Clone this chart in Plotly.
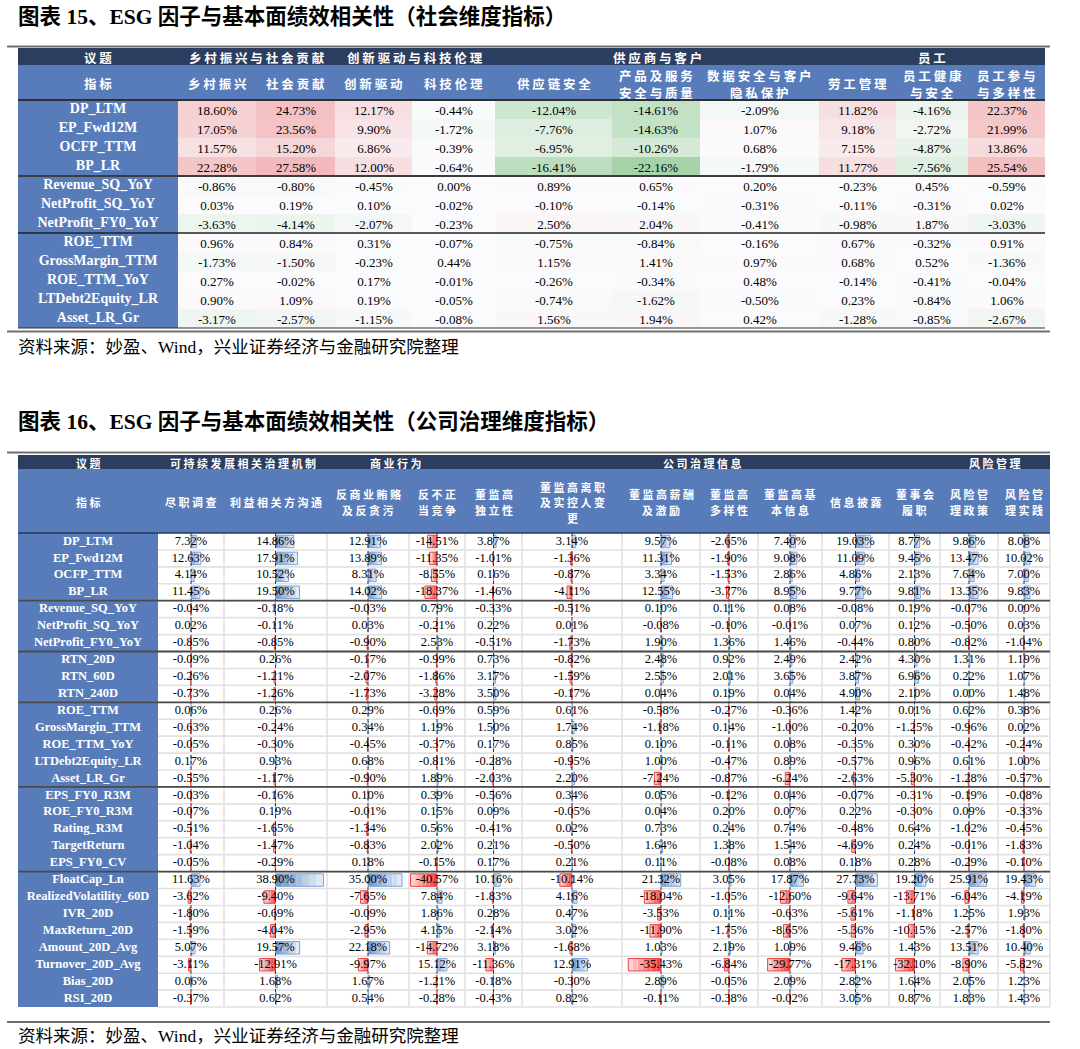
import plotly.graph_objects as go

# ===================== DATA : 图表15 =====================
t1_topics = ["议题", "乡村振兴与社会贡献", "创新驱动与科技伦理", "供应商与客户", "员工"]
t1_topic_cols = [(0, 0), (1, 2), (3, 4), (5, 7), (8, 10)]
t1_indicators = ["乡村振兴", "社会贡献", "创新驱动", "科技伦理", "供应链安全",
                 "产品及服务\n安全与质量", "数据安全与客户\n隐私保护", "劳工管理",
                 "员工健康\n与安全", "员工参与\n与多样性"]
t1_factors = ["DP_LTM", "EP_Fwd12M", "OCFP_TTM", "BP_LR", "Revenue_SQ_YoY",
              "NetProfit_SQ_YoY", "NetProfit_FY0_YoY", "ROE_TTM", "GrossMargin_TTM",
              "ROE_TTM_YoY", "LTDebt2Equity_LR", "Asset_LR_Gr"]
t1_groups = [4, 3, 5]

t1_DP_LTM = [18.60, 24.73, 12.17, -0.44, -12.04, -14.61, -2.09, 11.82, -4.16, 22.37]
t1_EP_Fwd12M = [17.05, 23.56, 9.90, -1.72, -7.76, -14.63, 1.07, 9.18, -2.72, 21.99]
t1_OCFP_TTM = [11.57, 15.20, 6.86, -0.39, -6.95, -10.26, 0.68, 7.15, -4.87, 13.86]
t1_BP_LR = [22.28, 27.58, 12.00, -0.64, -16.41, -22.16, -1.79, 11.77, -7.56, 25.54]
t1_Revenue_SQ_YoY = [-0.86, -0.80, -0.45, 0.00, 0.89, 0.65, 0.20, -0.23, 0.45, -0.59]
t1_NetProfit_SQ_YoY = [0.03, 0.19, 0.10, -0.02, -0.10, -0.14, -0.31, -0.11, -0.31, 0.02]
t1_NetProfit_FY0_YoY = [-3.63, -4.14, -2.07, -0.23, 2.50, 2.04, -0.41, -0.98, 1.87, -3.03]
t1_ROE_TTM = [0.96, 0.84, 0.31, -0.07, -0.75, -0.84, -0.16, 0.67, -0.32, 0.91]
t1_GrossMargin_TTM = [-1.73, -1.50, -0.23, 0.44, 1.15, 1.41, 0.97, 0.68, 0.52, -1.36]
t1_ROE_TTM_YoY = [0.27, -0.02, 0.17, -0.01, -0.26, -0.34, 0.48, -0.14, -0.41, -0.04]
t1_LTDebt2Equity_LR = [0.90, 1.09, 0.19, -0.05, -0.74, -1.62, -0.50, 0.23, -0.84, 1.06]
t1_Asset_LR_Gr = [-3.17, -2.57, -1.15, -0.08, 1.56, 1.94, 0.42, -1.28, -0.85, -2.67]

t1_values = [t1_DP_LTM, t1_EP_Fwd12M, t1_OCFP_TTM, t1_BP_LR, t1_Revenue_SQ_YoY,
             t1_NetProfit_SQ_YoY, t1_NetProfit_FY0_YoY, t1_ROE_TTM, t1_GrossMargin_TTM,
             t1_ROE_TTM_YoY, t1_LTDebt2Equity_LR, t1_Asset_LR_Gr]

# ===================== DATA : 图表16 =====================
t2_topics = ["议题", "可持续发展相关治理机制", "商业行为", "公司治理信息", "风险管理"]
t2_topic_cols = [(0, 0), (1, 2), (3, 4), (5, 11), (12, 13)]
t2_indicators = ["尽职调查", "利益相关方沟通", "反商业贿赂\n及反贪污", "反不正\n当竞争",
                 "董监高\n独立性", "董监高离职\n及实控人变\n更", "董监高薪酬\n及激励",
                 "董监高\n多样性", "董监高基\n本信息", "信息披露", "董事会\n履职",
                 "风险管\n理政策", "风险管\n理实践"]
t2_factors = ["DP_LTM", "EP_Fwd12M", "OCFP_TTM", "BP_LR", "Revenue_SQ_YoY",
              "NetProfit_SQ_YoY", "NetProfit_FY0_YoY", "RTN_20D", "RTN_60D", "RTN_240D",
              "ROE_TTM", "GrossMargin_TTM", "ROE_TTM_YoY", "LTDebt2Equity_LR", "Asset_LR_Gr",
              "EPS_FY0_R3M", "ROE_FY0_R3M", "Rating_R3M", "TargetReturn", "EPS_FY0_CV",
              "FloatCap_Ln", "RealizedVolatility_60D", "IVR_20D", "MaxReturn_20D",
              "Amount_20D_Avg", "Turnover_20D_Avg", "Bias_20D", "RSI_20D"]
t2_groups = [4, 3, 3, 5, 5, 8]

t2_DP_LTM = [7.32, 14.86, 12.91, -14.51, 3.87, 3.14, 9.57, -2.65, 7.40, 19.03, 8.77, 9.86, 8.08]
t2_EP_Fwd12M = [12.63, 17.91, 13.89, -11.35, -1.01, -1.36, 11.31, -1.90, 9.08, 11.09, 9.45, 13.47, 10.02]
t2_OCFP_TTM = [4.14, 10.52, 8.31, -8.55, 0.16, -0.87, 3.34, -1.53, 2.86, 4.86, 2.13, 7.64, 7.00]
t2_BP_LR = [11.45, 19.50, 14.02, -18.37, -1.46, -4.11, 12.55, -3.77, 8.95, 9.77, 9.81, 13.35, 9.83]
t2_Revenue_SQ_YoY = [-0.04, -0.18, -0.03, 0.79, -0.33, -0.51, 0.10, 0.11, 0.08, -0.08, 0.19, -0.07, 0.00]
t2_NetProfit_SQ_YoY = [0.02, -0.11, 0.03, -0.21, 0.22, 0.01, -0.08, -0.10, -0.01, 0.07, 0.12, -0.50, 0.03]
t2_NetProfit_FY0_YoY = [-0.85, -0.85, -0.90, 2.53, -0.51, -1.73, 1.90, 1.36, 1.46, -0.44, 0.80, -0.82, -1.04]
t2_RTN_20D = [-0.09, 0.26, -0.17, -0.99, 0.73, -0.82, 2.48, 0.92, 2.49, 2.42, 4.30, 1.31, 1.19]
t2_RTN_60D = [-0.26, -1.21, -2.07, -1.86, 3.17, -1.59, 2.55, 2.01, 3.65, 3.87, 6.96, 0.22, 1.07]
t2_RTN_240D = [-0.73, -1.26, -1.73, -3.28, 3.50, -0.17, 0.04, 0.19, 0.04, 4.90, 2.10, 0.00, 1.48]
t2_ROE_TTM = [0.06, 0.26, 0.29, -0.69, 0.59, 0.61, -0.58, -0.27, -0.36, 1.42, 0.01, 0.62, 0.38]
t2_GrossMargin_TTM = [-0.63, -0.24, 0.34, 1.19, 1.50, 1.74, -1.18, 0.14, -1.00, -0.20, -1.25, -0.96, 0.02]
t2_ROE_TTM_YoY = [-0.05, -0.30, -0.45, -0.37, 0.17, 0.85, 0.10, -0.11, 0.08, -0.35, 0.30, -0.42, -0.24]
t2_LTDebt2Equity_LR = [0.17, 0.93, 0.68, -0.81, -0.28, -0.95, 1.00, -0.47, 0.89, -0.57, 0.96, 0.61, 1.00]
t2_Asset_LR_Gr = [-0.55, -1.17, -0.90, 1.89, -2.03, 2.20, -7.24, -0.87, -6.24, -2.63, -5.30, -1.28, -0.57]
t2_EPS_FY0_R3M = [-0.03, -0.16, 0.10, 0.39, -0.56, 0.34, 0.05, -0.12, 0.04, -0.07, -0.31, -0.19, -0.08]
t2_ROE_FY0_R3M = [-0.07, 0.19, -0.01, 0.15, 0.09, -0.05, 0.04, 0.20, 0.07, 0.22, -0.30, 0.09, -0.33]
t2_Rating_R3M = [-0.51, -1.65, -1.34, 0.56, -0.41, 0.02, 0.73, 0.24, 0.74, -0.48, 0.64, -1.02, -0.45]
t2_TargetReturn = [-1.04, -1.47, -0.83, 2.02, 0.21, -0.50, 1.64, 1.38, 1.54, -4.69, 0.24, -0.01, -1.83]
t2_EPS_FY0_CV = [-0.05, -0.29, 0.18, -0.15, 0.17, 0.21, 0.11, -0.08, 0.08, 0.18, 0.28, -0.29, -0.10]
t2_FloatCap_Ln = [11.63, 38.90, 35.00, -40.57, 10.16, -10.14, 21.32, 3.05, 17.87, 27.73, 19.20, 25.91, 19.43]
t2_RealizedVolatility_60D = [-3.62, -9.40, -7.65, 7.84, -1.83, 4.16, -18.04, -1.05, -12.60, -9.64, -13.71, -6.04, -4.19]
t2_IVR_20D = [-1.80, -0.69, -0.09, 1.86, 0.28, 0.47, -3.53, 0.11, -0.63, -5.61, -1.18, 1.25, 1.93]
t2_MaxReturn_20D = [-1.59, -4.04, -2.95, 4.15, -2.14, 3.02, -11.90, -1.75, -8.65, -5.36, -10.15, -2.57, -1.80]
t2_Amount_20D_Avg = [5.07, 19.57, 22.18, -14.72, 3.18, -1.68, 1.03, 2.19, 1.09, 9.46, 1.43, 13.51, 10.40]
t2_Turnover_20D_Avg = [-3.11, -12.91, -9.97, 15.12, -11.36, 12.91, -35.43, -6.84, -29.77, -17.31, -32.10, -8.90, -5.82]
t2_Bias_20D = [0.06, 1.68, 1.67, -1.21, -0.18, -0.30, 2.89, -0.05, 2.09, 2.82, 1.64, 2.05, 1.23]
t2_RSI_20D = [-0.37, 0.62, 0.54, -0.28, -0.43, 0.82, -0.11, -0.38, -0.02, 3.05, 0.87, 1.83, 1.43]

t2_values = [t2_DP_LTM, t2_EP_Fwd12M, t2_OCFP_TTM, t2_BP_LR, t2_Revenue_SQ_YoY,
             t2_NetProfit_SQ_YoY, t2_NetProfit_FY0_YoY, t2_RTN_20D, t2_RTN_60D, t2_RTN_240D,
             t2_ROE_TTM, t2_GrossMargin_TTM, t2_ROE_TTM_YoY, t2_LTDebt2Equity_LR, t2_Asset_LR_Gr,
             t2_EPS_FY0_R3M, t2_ROE_FY0_R3M, t2_Rating_R3M, t2_TargetReturn, t2_EPS_FY0_CV,
             t2_FloatCap_Ln, t2_RealizedVolatility_60D, t2_IVR_20D, t2_MaxReturn_20D,
             t2_Amount_20D_Avg, t2_Turnover_20D_Avg, t2_Bias_20D, t2_RSI_20D]

title1 = "图表 15、ESG 因子与基本面绩效相关性（社会维度指标）"
title2 = "图表 16、ESG 因子与基本面绩效相关性（公司治理维度指标）"
source_text = "资料来源：妙盈、Wind，兴业证券经济与金融研究院整理"

# ===================== GEOMETRY / STYLE =====================
FIG_W, FIG_H = 1080, 1049          # page pixels are used as data units
SERIF = "Liberation Serif, Noto Sans CJK SC"
CJK = "Noto Sans CJK SC"
NAVY = "#2B3E60"
BLUE = "#587CBA"

T1_X = [18, 178, 256, 335, 412, 495, 612, 700, 819, 896, 968, 1045]
T1_HEAD_TOP, T1_HEAD_MID, T1_DATA_TOP, T1_ROW = 48, 65, 100, 19.0
T1_TITLE_Y, T1_RULE_TOP, T1_RULE_BOT, T1_SRC_Y = 17, 46.5, 331.5, 347
T1_LINE_GAP = 17

T2_X = [18, 158, 224, 327, 409, 465, 522, 622, 700, 758, 822, 889, 940, 998, 1050]
T2_HEAD_TOP, T2_HEAD_MID, T2_DATA_TOP, T2_ROW = 455, 469, 533, 16.93
T2_TITLE_Y, T2_RULE_TOP, T2_RULE_BOT, T2_SRC_Y = 422, 452.5, 1022, 1036
T2_LINE_GAP = 15.5
RULE_X0, RULE_X1 = 7, 1050

shapes, annotations, traces = [], [], []


def rect(x0, y0, x1, y1, color, layer="below"):
    shapes.append(dict(type="rect", xref="x", yref="y", x0=x0, y0=y0, x1=x1, y1=y1,
                       fillcolor=color, line=dict(width=0), layer=layer))


def hline(x0, x1, y, color, width):
    shapes.append(dict(type="line", xref="x", yref="y", x0=x0, x1=x1, y0=y, y1=y,
                       line=dict(color=color, width=width), layer="above"))


def ann(x, y, text, size, color="white", family=CJK, xanchor="center"):
    annotations.append(dict(x=x, y=y, xref="x", yref="y", text=text, showarrow=False,
                            font=dict(size=size, color=color, family=family),
                            xanchor=xanchor, yanchor="middle", borderpad=0))


def ann_lines(x, yc, name, size, gap):
    lines = name.split("\n")
    n = len(lines)
    for k, line in enumerate(lines):
        yy = yc + (k - (n - 1) / 2) * gap
        ann(x, yy, "<b>" + " ".join(list(line)) + "</b>", size)


def fmt(v):
    return f"{v:.2f}%"


def lines_trace(segs, color, width, dash=None):
    xs, ys = [], []
    for x0, y0, x1, y1 in segs:
        xs += [x0, x1, None]
        ys += [y0, y1, None]
    return go.Scatter(x=xs, y=ys, mode="lines", hoverinfo="skip", showlegend=False,
                      line=dict(color=color, width=width, dash=dash))


def header(xe, top, mid, bottom, topics, spans, indicators, fs1, fs2, gap):
    rect(xe[0], top, xe[-1], mid, NAVY)
    rect(xe[0], mid, xe[-1], bottom, BLUE)
    for name, (a, b) in zip(topics, spans):
        ann_lines((xe[a] + xe[b + 1]) / 2, (top + mid) / 2 + 0.5, name, fs1, gap)
    ann_lines((xe[0] + xe[1]) / 2, (mid + bottom) / 2 + 1, "指标", fs2, gap)
    for j, name in enumerate(indicators):
        ann_lines((xe[j + 1] + xe[j + 2]) / 2, (mid + bottom) / 2 + 1, name, fs2, gap)


def lerp(c0, c1, t):
    return tuple(c0[i] + (c1[i] - c0[i]) * t for i in range(3))


def rgb(c):
    return "rgb(%d,%d,%d)" % tuple(round(v) for v in c)


# ---------------- titles / rules / source ----------------
for ty, tt in [(T1_TITLE_Y, title1), (T2_TITLE_Y, title2)]:
    ann(17, ty, "<b>" + tt + "</b>", 21.5, color="black", family=SERIF, xanchor="left")
for sy in [T1_SRC_Y, T2_SRC_Y]:
    ann(17, sy, source_text, 17.5, color="black", family=SERIF, xanchor="left")
for ry in [T1_RULE_TOP, T1_RULE_BOT, T2_RULE_TOP, T2_RULE_BOT]:
    hline(RULE_X0, RULE_X1, ry, "#6E6E6E", 2.2)

# ===================== TABLE 1 =====================
n1 = len(t1_factors)
t1_bottom = T1_DATA_TOP + n1 * T1_ROW
header(T1_X, T1_HEAD_TOP, T1_HEAD_MID, T1_DATA_TOP, t1_topics, t1_topic_cols,
       t1_indicators, 12.5, 12.5, T1_LINE_GAP)
rect(T1_X[0], T1_DATA_TOP, T1_X[1], t1_bottom, BLUE)

y_edges1 = [T1_DATA_TOP + i * T1_ROW for i in range(n1 + 1)]
vmax1 = max(abs(v) for row in t1_values for v in row)
white = (251, 251, 253)
red_end = (242, 186, 188)
green_at = (166, 212, 168)
t_green = min(v for row in t1_values for v in row) / -vmax1
green_end = tuple(white[i] + (green_at[i] - white[i]) / t_green for i in range(3))
traces.append(go.Heatmap(
    z=t1_values, x=T1_X[1:], y=y_edges1, zmin=-vmax1, zmax=vmax1,
    colorscale=[[0, rgb(green_end)], [0.5, rgb(white)], [1, rgb(red_end)]],
    showscale=False, hoverinfo="skip", xgap=0, ygap=0,
    text=[[fmt(v) for v in row] for row in t1_values], texttemplate="%{text}",
    textfont=dict(family="Liberation Serif", size=13, color="black")))

traces.append(go.Scatter(
    x=[(T1_X[0] + T1_X[1]) / 2] * n1,
    y=[T1_DATA_TOP + (i + 0.5) * T1_ROW for i in range(n1)],
    text=["<b>" + f + "</b>" for f in t1_factors], mode="text", hoverinfo="skip",
    showlegend=False, textfont=dict(family="Liberation Serif", size=14, color="white")))

hline(T1_X[0], T1_X[-1], T1_DATA_TOP, "#2F2F2F", 2)
acc = 0
for k, g in enumerate(t1_groups):
    acc += g
    yy = T1_DATA_TOP + acc * T1_ROW
    if k < len(t1_groups) - 1:
        hline(T1_X[0], T1_X[-1], yy, "#222222" if k else "#3C3C3C", 1.6 if k else 2.2)
    else:
        hline(T1_X[0], T1_X[-1], yy, "#333333", 1.2)

# ===================== TABLE 2 =====================
n2 = len(t2_factors)
nc2 = len(t2_indicators)
t2_bottom = T2_DATA_TOP + n2 * T2_ROW
header(T2_X, T2_HEAD_TOP, T2_HEAD_MID, T2_DATA_TOP, t2_topics, t2_topic_cols,
       t2_indicators, 11, 11, T2_LINE_GAP)
rect(T2_X[0], T2_DATA_TOP, T2_X[1], t2_bottom, BLUE)

# light grid
grid = []
for i in range(1, n2 + 1):
    yy = T2_DATA_TOP + i * T2_ROW
    grid.append((T2_X[1], yy, T2_X[-1], yy))
for j in range(2, len(T2_X)):
    grid.append((T2_X[j], T2_DATA_TOP, T2_X[j], t2_bottom))
traces.append(lines_trace(grid, "#E1E1E1", 1.6))

# data bars (cell-midpoint axis, common scale)
vmax2 = max(abs(v) for row in t2_values for v in row)
NSEG = 7
blue_s, blue_l = (104, 145, 203), (236, 241, 250)
red_s, red_l = (242, 52, 52), (253, 224, 224)
pos = {k: dict(x=[], y=[], base=[]) for k in range(NSEG)}
neg = {k: dict(x=[], y=[], base=[]) for k in range(NSEG)}
pos_o = dict(x=[], y=[], base=[])
neg_o = dict(x=[], y=[], base=[])
centers = [(T2_X[j + 1] + T2_X[j + 2]) / 2 for j in range(nc2)]
halfs = [(T2_X[j + 2] - T2_X[j + 1]) / 2 - 1.5 for j in range(nc2)]
for i, row in enumerate(t2_values):
    yc = T2_DATA_TOP + (i + 0.5) * T2_ROW
    for j, v in enumerate(row):
        if v == 0:
            continue
        L = abs(v) / vmax2 * halfs[j]
        cx = centers[j]
        for k in range(NSEG):
            seg = L / NSEG
            if v > 0:
                d = pos[k]
                d["base"].append(cx + k * seg)
            else:
                d = neg[k]
                d["base"].append(cx - (k + 1) * seg)
            d["x"].append(seg)
            d["y"].append(yc)
        o = pos_o if v > 0 else neg_o
        o["x"].append(L)
        o["y"].append(yc)
        o["base"].append(cx if v > 0 else cx - L)

BAR_H = 12.5
for k in range(NSEG):
    t = (k + 0.5) / NSEG
    for d, cs, cl in [(pos[k], blue_s, blue_l), (neg[k], red_s, red_l)]:
        traces.append(go.Bar(orientation="h", x=d["x"], y=d["y"], base=d["base"], width=BAR_H,
                             marker=dict(color=rgb(lerp(cs, cl, t)), line=dict(width=0)),
                             hoverinfo="skip", showlegend=False))
for d, lc in [(pos_o, "#7FA3D6"), (neg_o, "#EE4040")]:
    traces.append(go.Bar(orientation="h", x=d["x"], y=d["y"], base=d["base"], width=BAR_H,
                         marker=dict(color="rgba(0,0,0,0)", line=dict(color=lc, width=1)),
                         hoverinfo="skip", showlegend=False))

# dashed axes at cell midpoints
traces.append(lines_trace([(c, T2_DATA_TOP, c, t2_bottom) for c in centers], "#333333", 1, "dot"))

# values text
tx, ty, tt = [], [], []
for i, row in enumerate(t2_values):
    for j, v in enumerate(row):
        tx.append(centers[j])
        ty.append(T2_DATA_TOP + (i + 0.5) * T2_ROW)
        tt.append(fmt(v))
traces.append(go.Scatter(x=tx, y=ty, text=tt, mode="text", hoverinfo="skip", showlegend=False,
                         textfont=dict(family="Liberation Serif", size=12.5, color="black")))
traces.append(go.Scatter(
    x=[(T2_X[0] + T2_X[1]) / 2] * n2,
    y=[T2_DATA_TOP + (i + 0.5) * T2_ROW for i in range(n2)],
    text=["<b>" + f + "</b>" for f in t2_factors], mode="text", hoverinfo="skip",
    showlegend=False, textfont=dict(family="Liberation Serif", size=12.5, color="white")))

hline(T2_X[0], T2_X[-1], T2_DATA_TOP, "#26385A", 1.5)
acc = 0
for k, g in enumerate(t2_groups[:-1]):
    acc += g
    yy = T2_DATA_TOP + acc * T2_ROW
    hline(T2_X[0], T2_X[-1], yy, "#4A4A4A", 1.8)

fig = go.Figure(traces)
fig.update_layout(
    width=FIG_W, height=FIG_H, margin=dict(l=0, r=0, t=0, b=0, pad=0),
    paper_bgcolor="white", plot_bgcolor="white", barmode="overlay",
    shapes=shapes, annotations=annotations, showlegend=False,
    xaxis=dict(range=[0, FIG_W], visible=False, fixedrange=True),
    yaxis=dict(range=[FIG_H, 0], visible=False, fixedrange=True),
)
fig.write_html("out.html",
               config={"displayModeBar": False, "staticPlot": True},
               post_script="document.body.style.margin='0px';document.body.style.overflow='hidden';")
